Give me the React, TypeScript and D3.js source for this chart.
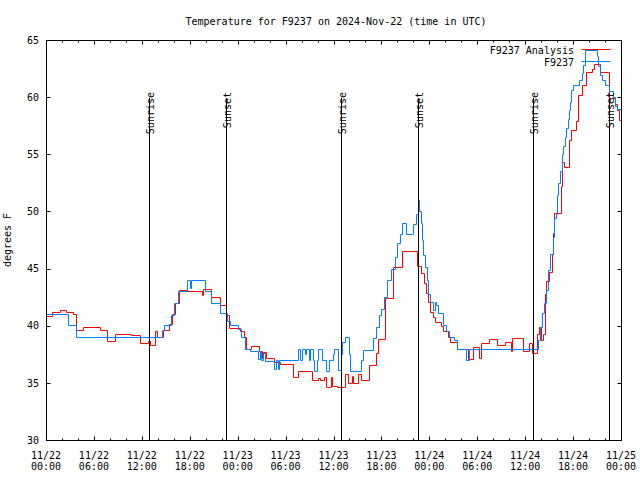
import React from "react";
import * as d3 from "d3";

// ---- data (hours after 2024-11-22 00:00 UTC, degrees F), step changes ----
const START = Date.UTC(2024, 10, 22, 0, 0);
const END = Date.UTC(2024, 10, 25, 0, 0);

const analysisHours = [
  0, 0.7, 1.75, 2.5, 3.4, 3.75, 4.6, 6.7, 7.6, 8.6, 10.7, 11.75, 12.75, 13.0, 13.7, 13.85, 14.6, 15.4, 15.75,
  16.2, 16.6, 17.6, 19.5, 19.7, 20.65, 21.75, 22.6, 22.9, 24.25, 24.75, 25.0, 25.7, 26.7, 27.0, 27.2, 27.5,
  28.6, 29.25, 30.9, 31.6, 33.3, 34.0, 34.3, 34.8, 35.0, 35.7, 35.85, 36.4, 37.4, 37.8, 38.3, 38.5, 39.1,
  39.4, 40.5, 41.3, 41.6, 42.5, 43.45, 44.55, 45.5, 46.5, 46.9, 47.35, 47.6, 47.85, 48.05, 48.45, 48.7,
  49.45, 49.65, 50.3, 50.65, 51.5, 52.8, 53.5, 54.25, 54.45, 55.45, 56.5, 57.5, 58.2, 58.4, 59.7, 60.45,
  60.8, 61.45, 61.7, 62.0, 62.2, 62.45, 62.65, 62.95, 63.35, 63.5, 63.6, 64.45, 64.6, 64.8, 65.45, 65.7,
  66.4, 66.6, 67.15, 67.6, 68.4, 68.6, 69.35, 70.45, 71.3, 71.5, 71.75, 72,
];
const analysisTemps = [
  40.85, 41.2, 41.4, 41.2, 41.0, 39.6, 39.9, 39.6, 38.7, 39.3, 39.2, 38.5, 38.7, 38.3, 39.5, 39.0, 39.6, 40.15, 41.0,
  42.0, 43.1, 43.0, 42.7, 43.2, 42.5, 41.8, 40.9, 39.8, 39.5, 39.05, 38.0, 38.2, 37.8, 37.2, 37.7, 37.2,
  36.85, 36.65, 35.5, 36.0, 35.25, 35.4, 35.25, 35.5, 34.6, 35.5, 34.7, 34.6, 35.8, 35.0, 35.6, 35.0, 35.8,
  35.25, 36.55, 37.6, 38.8, 42.4, 45.1, 46.55, 46.5, 45.2, 44.6, 43.7, 42.9, 42.1, 41.2, 40.8, 40.35,
  40.0, 39.5, 39.05, 38.6, 38.0, 37.05, 38.1, 37.2, 38.45, 38.8, 38.3, 38.6, 37.8, 38.9, 37.8, 38.45,
  37.6, 39.3, 39.9, 38.75, 39.3, 42.8, 43.9, 44.7, 46.3, 48.1, 49.9, 52.2, 54.35, 53.85, 56.25, 57.1,
  57.9, 60.2, 61.05, 62.2, 62.5, 62.9, 62.2, 59.9, 59.4, 58.9, 58.0, 58.0,
];

const stationHours = [
  0, 2.75, 3.8, 14.5, 14.75, 15.6, 16.0, 16.5, 17.7, 18.0, 18.2, 19.85, 20.65, 21.8, 22.7, 23.0, 24.0, 24.45,
  24.95, 25.5, 26.55, 26.75, 26.95, 27.15, 27.4, 28.6, 28.8, 29.0, 29.2, 31.5, 31.75, 32.0, 32.4, 32.55,
  32.9, 33.1, 33.4, 33.6, 33.9, 34.1, 34.55, 35.1, 35.4, 35.9, 36.1, 36.55, 36.9, 37.1, 37.4, 37.95, 38.1,
  39.45, 39.65, 40.9, 41.3, 41.7, 42.0, 42.3, 42.7, 43.2, 43.7, 44.0, 44.3, 44.55, 45.05, 45.95, 46.35,
  46.55, 46.75, 46.9, 47.05, 47.25, 47.45, 47.65, 47.85, 48.05, 48.45, 48.7, 48.85, 49.1, 49.7, 50.1,
  50.45, 51.15, 51.45, 52.55, 53.0, 61.55, 61.85, 62.1, 62.35, 62.55, 62.85, 63.15, 63.45, 63.65, 63.8,
  63.95, 64.15, 64.35, 64.55, 64.75, 64.95, 65.15, 65.35, 65.5, 65.65, 65.8, 66.05, 66.8, 67.1, 67.3,
  67.5, 68.95, 69.15, 69.35, 69.6, 69.95, 70.5, 70.95, 71.3, 71.5, 72,
];
const stationTemps = [
  41.0, 40.05, 39.0, 39.6, 40.05, 40.9, 42.0, 43.05, 44.0, 43.3, 44.0, 43.05, 42.0, 41.1, 40.45, 40.05, 39.75, 39.0,
  38.0, 37.8, 37.1, 37.8, 37.0, 37.6, 36.9, 36.2, 37.0, 36.2, 37.0, 38.0, 37.0, 38.0, 37.5, 38.0,
  37.0, 38.0, 37.0, 36.0, 37.0, 38.0, 37.0, 36.0, 37.0, 37.5, 38.0, 36.1, 37.5, 38.6, 39.0, 37.5, 36.0,
  37.0, 37.9, 38.9, 39.9, 40.9, 41.5, 42.5, 44.0, 45.0, 46.0, 47.2, 48.0, 49.0, 48.0, 48.9, 49.8,
  51.0, 50.0, 49.0, 47.5, 46.2, 45.1, 44.0, 42.8, 42.1, 41.4, 42.1, 41.8, 41.1, 40.05, 39.5,
  39.05, 38.75, 38.0, 37.0, 38.0, 38.75, 39.9, 41.1, 42.0, 43.1, 44.9, 46.3, 47.8, 49.4, 49.8,
  51.4, 52.5, 53.5, 55.0, 55.7, 56.5, 57.3, 58.1, 58.9, 59.6, 60.6, 61.05, 61.5, 62.1, 62.8,
  64.1, 63.6, 62.7, 61.9, 61.5, 61.05, 60.5, 60.0, 59.2, 59.0, 59.0,
];

const sunHours = [12.88, 22.48, 36.96, 46.55, 60.95, 70.46];
const sunLabels = ["Sunrise", "Sunset", "Sunrise", "Sunset", "Sunrise", "Sunset"];

const yTickValues = [30, 35, 40, 45, 50, 55, 60, 65];
const seriesNames = ["F9237 Analysis", "F9237"];
const seriesColors = ["#ff0000", "#0080ff"];

const TITLE = "Temperature for F9237 on 2024-Nov-22 (time in UTC)";
const Y_LABEL = "degrees F";

const FONT = "'DejaVu Sans Mono', 'Liberation Mono', monospace";

const toDate = (h: number) => new Date(START + h * 3600e3);
const snap = (v: number) => Math.round(v) + 0.5;

export default function App() {
  const left = 46, right = 621, top = 40, bottom = 440;
  const x = d3.scaleUtc().domain([new Date(START), new Date(END)]).range([left, right]);
  const y = d3.scaleLinear().domain([30, 65]).range([bottom, top]);

  const line = d3
    .line<[number, number]>()
    .x((d) => snap(x(toDate(d[0]))))
    .y((d) => snap(y(d[1])))
    .curve(d3.curveStepAfter);

  const analysisPts = analysisHours.map((h, i) => [h, analysisTemps[i]] as [number, number]);
  const stationPts = stationHours.map((h, i) => [h, stationTemps[i]] as [number, number]);

  const minorTicks = d3.utcHour.every(2)!.range(new Date(START), new Date(END + 1));
  const majorTicks = d3.utcHour.every(6)!.range(new Date(START), new Date(END + 1));
  const fmtDay = d3.utcFormat("%m/%d");
  const fmtTime = d3.utcFormat("%H:%M");

  const L = snap(left), R = snap(right), T = snap(top), B = snap(bottom);

  return (
    <svg
      width={640}
      height={480}
      style={{ position: "absolute", left: 0, top: 0, background: "#fff" }}
      fontFamily={FONT}
      fontSize={10}
    >
      <rect x={0} y={0} width={640} height={480} fill="#fff" />
      <text x={336} y={24.5} textAnchor="middle" fill="#000">
        {TITLE}
      </text>
      <text transform="translate(11,240) rotate(-90)" textAnchor="middle" fill="#000">
        {Y_LABEL}
      </text>

      {/* data */}
      <path d={line(analysisPts) || ""} fill="none" stroke={seriesColors[0]} strokeWidth={1} />
      <path d={line(stationPts) || ""} fill="none" stroke={seriesColors[1]} strokeWidth={1} />

      {/* y ticks */}
      {yTickValues.map((v) => (
        <g key={"y" + v}>
          <line x1={L} x2={L + 4} y1={snap(y(v))} y2={snap(y(v))} stroke="#000" />
          <line x1={R} x2={R - 4} y1={snap(y(v))} y2={snap(y(v))} stroke="#000" />
          <text x={39} y={y(v) + 3.7} textAnchor="end" fill="#000">
            {v}
          </text>
        </g>
      ))}

      {/* x ticks */}
      {minorTicks.map((t) => {
        const isMajor = t.getUTCHours() % 6 === 0;
        const len = isMajor ? 4 : 2;
        const tx = snap(x(t));
        return (
          <g key={"xm" + t.getTime()}>
            <line x1={tx} x2={tx} y1={B} y2={B - len} stroke="#000" />
            <line x1={tx} x2={tx} y1={T} y2={T + len} stroke="#000" />
          </g>
        );
      })}
      {majorTicks.map((t) => (
        <g key={"xl" + t.getTime()}>
          <text x={x(t)} y={458.5} textAnchor="middle" fill="#000">
            {fmtDay(t)}
          </text>
          <text x={x(t)} y={470} textAnchor="middle" fill="#000">
            {fmtTime(t)}
          </text>
        </g>
      ))}

      {/* sunrise / sunset */}
      {sunHours.map((h, i) => {
        const sx = snap(x(toDate(h)));
        return (
          <g key={"sun" + i}>
            <line x1={sx} x2={sx} y1={98} y2={B} stroke="#000" />
            <text
              transform={`translate(${sx + 1},92) rotate(-90)`}
              dy="0.35em"
              textAnchor="end"
              fill="#000"
            >
              {sunLabels[i]}
            </text>
          </g>
        );
      })}

      {/* legend */}
      {seriesNames.map((n, i) => (
        <g key={"lg" + i}>
          <text x={574} y={53.5 + i * 12.5} textAnchor="end" fill="#000">
            {n}
          </text>
          <line
            x1={581.5}
            x2={610.5}
            y1={49.5 + i * 12}
            y2={49.5 + i * 12}
            stroke={seriesColors[i]}
          />
        </g>
      ))}

      {/* border */}
      <rect x={L} y={T} width={R - L} height={B - T} fill="none" stroke="#000" />
    </svg>
  );
}
